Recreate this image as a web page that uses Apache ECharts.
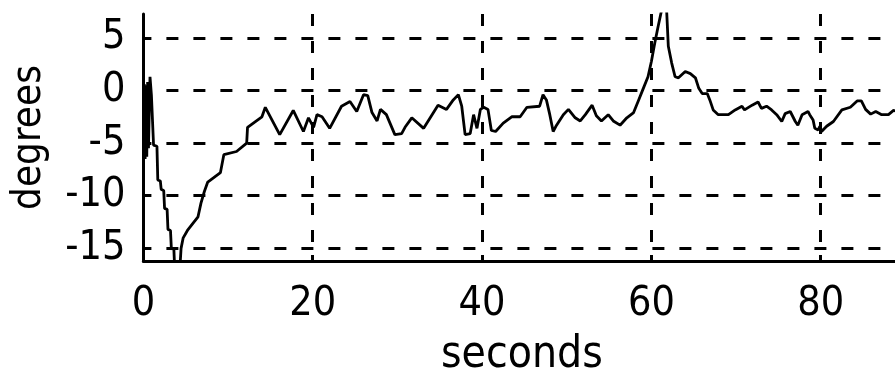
<!DOCTYPE html>
<html>
<head>
<meta charset="utf-8">
<script src="https://cdn.jsdelivr.net/npm/echarts@6/dist/echarts.min.js"></script>
<style>
html,body{margin:0;padding:0;background:#fff;}
#chart{width:895px;height:372px;}
</style>
</head>
<body>
<div id="chart"></div>
<script>
const seconds = [0, 0.1, 0.2, 0.3, 0.4, 0.5, 0.6, 0.78, 0.95, 1.2, 1.6, 1.7, 2.0, 2.1, 2.4, 2.5, 2.8, 2.9, 3.2, 3.3, 3.6, 3.7, 4.3, 4.45, 4.7, 5.2, 6.45, 6.8, 7.2, 7.6, 9.1, 9.5, 11.0, 12.2, 12.3, 14.0, 14.4, 16.1, 17.7, 18.9, 19.5, 20.1, 20.5, 21.1, 22.0, 23.4, 24.4, 25.2, 26.0, 26.5, 27.0, 27.6, 28.0, 28.7, 29.7, 30.5, 30.9, 31.7, 33.1, 34.8, 35.8, 36.6, 37.2, 37.6, 38.0, 38.6, 39.0, 39.4, 39.8, 40.2, 40.7, 41.1, 41.6, 42.5, 43.5, 44.5, 45.3, 46.8, 47.2, 47.6, 48.0, 48.4, 48.8, 49.6, 50.2, 51.0, 51.6, 52.2, 53.0, 53.5, 54.1, 54.9, 55.5, 56.3, 57.1, 57.9, 58.5, 59.0, 59.6, 60.0, 60.4, 60.8, 61.2, 61.8, 62.0, 62.4, 62.8, 63.2, 64.0, 64.6, 65.2, 65.6, 66.0, 66.6, 66.9, 67.3, 67.9, 69.1, 69.9, 70.7, 71.0, 71.9, 72.6, 73.0, 73.6, 74.2, 74.8, 75.4, 75.8, 76.4, 77.0, 77.3, 77.8, 78.5, 78.7, 79.1, 79.3, 79.7, 79.9, 80.1, 80.7, 81.5, 82.5, 83.5, 84.3, 84.8, 85.3, 85.9, 86.5, 87.2, 88.0, 88.6, 89.4];
const degrees = [-2.5, 0.6, -6.5, 0.5, -6.3, 0.8, -5.5, 1.3, -0.5, -5.2, -5.3, -8.5, -8.6, -9.4, -9.5, -11.2, -11.3, -13.2, -13.3, -15.0, -15.1, -17, -17, -15.0, -14.0, -13.3, -12.0, -10.7, -9.6, -8.7, -7.8, -6.1, -5.8, -5.0, -3.5, -2.5, -1.6, -4.2, -1.9, -3.9, -2.6, -3.5, -2.3, -2.5, -3.6, -1.5, -1.05, -2.0, -0.4, -0.5, -2.1, -2.9, -1.8, -2.3, -4.2, -4.1, -3.5, -2.6, -3.6, -1.4, -1.8, -0.9, -0.4, -1.5, -4.2, -4.1, -2.3, -3.6, -1.8, -1.6, -1.8, -3.8, -3.9, -3.1, -2.5, -2.5, -1.6, -1.5, -0.4, -0.9, -2.3, -3.9, -3.3, -2.3, -1.8, -2.6, -2.9, -2.3, -1.4, -2.4, -2.9, -2.3, -2.9, -3.3, -2.6, -2.1, -0.9, 0.1, 1.3, 2.75, 4.5, 6.1, 7.6, 7.6, 4.2, 2.6, 1.3, 1.2, 1.8, 1.6, 1.2, 0.2, -0.3, -0.3, -0.9, -1.85, -2.3, -2.3, -1.85, -1.5, -1.85, -1.4, -1.1, -1.7, -1.5, -1.85, -2.3, -2.95, -2.2, -2.0, -2.95, -3.3, -2.3, -2.0, -2.3, -2.8, -3.6, -3.75, -3.4, -3.9, -3.4, -2.95, -1.85, -1.6, -1.0, -1.0, -1.8, -2.25, -2.0, -2.3, -2.3, -1.9, -2.1];
const xTicks = [0, 20, 40, 60, 80];
const yTicks = [-15, -10, -5, 0, 5];
const xName = 'seconds';
const yName = 'degrees';

const tickFont = '"DejaVu Sans Condensed", "Liberation Sans Narrow", "Liberation Sans", sans-serif';
const chart = echarts.init(document.getElementById('chart'), null, {renderer: 'canvas'});
chart.setOption({
  animation: false,
  backgroundColor: '#fff',
  grid: {left: 143.4, top: 14, width: 756.9, height: 247, containLabel: false, outerBoundsMode: 'none'},
  xAxis: {
    type: 'value', min: 0, max: 89.4, interval: 20,
    name: xName, nameLocation: 'middle', nameGap: 73,
    nameTextStyle: {color: '#000', fontSize: 44, fontFamily: tickFont},
    axisLine: {onZero: false, lineStyle: {color: '#000', width: 3}},
    axisTick: {inside: true, length: 6, customValues: xTicks, lineStyle: {color: '#000', width: 3}},
    axisLabel: {color: '#000', fontSize: 41, fontFamily: tickFont, margin: 23, customValues: xTicks},
    splitLine: {show: true, lineStyle: {color: '#000', width: 3, type: [12, 15], dashOffset: 0}}
  },
  yAxis: {
    type: 'value', min: -16.2, max: 7.26,
    name: yName, nameLocation: 'middle', nameGap: 94, nameRotate: 90,
    nameTextStyle: {color: '#000', fontSize: 40, fontFamily: tickFont},
    axisLine: {onZero: false, lineStyle: {color: '#000', width: 3}},
    axisTick: {inside: true, length: 6, customValues: yTicks, lineStyle: {color: '#000', width: 3}},
    axisLabel: {color: '#000', fontSize: 41, fontFamily: tickFont, margin: 18, customValues: yTicks},
    splitLine: {show: true, lineStyle: {color: '#000', width: 3, type: [12, 15], dashOffset: 4}}
  },
  series: [{
    type: 'line',
    data: seconds.map((s, i) => [s, degrees[i]]),
    showSymbol: false,
    clip: true,
    lineStyle: {color: '#000', width: 2.8},
    z: 3
  }]
});
</script>
</body>
</html>
